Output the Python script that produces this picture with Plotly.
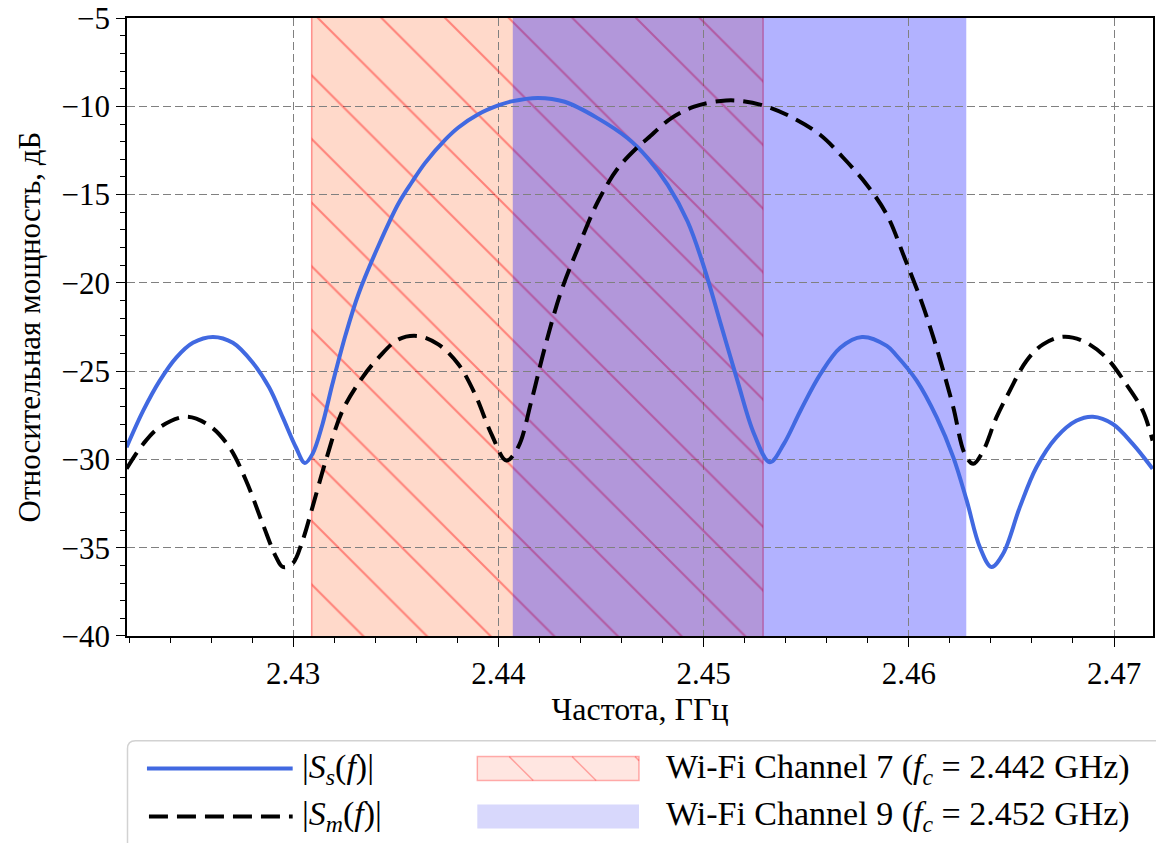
import plotly.graph_objects as go

# ---------------- data ----------------
blue_f = [2.42188, 2.42269, 2.42349, 2.42430, 2.42511, 2.42609, 2.42706, 2.42803, 2.42883,
          2.42949, 2.43013, 2.43057, 2.43094, 2.43143, 2.43191, 2.43256, 2.43319, 2.43416,
          2.43513, 2.43578, 2.43643, 2.43740, 2.43805, 2.43902, 2.43999, 2.44064, 2.44193,
          2.44323, 2.44485, 2.44630, 2.44728, 2.44825, 2.44922, 2.45003, 2.45084, 2.45165,
          2.45246, 2.45323, 2.45391, 2.45472, 2.45569, 2.45666, 2.45772, 2.45893, 2.45942,
          2.46039, 2.46136, 2.46217, 2.46282, 2.46346, 2.46403, 2.46460, 2.46541, 2.46622,
          2.46719, 2.46816, 2.46897, 2.46994, 2.47091, 2.47188]
blue_v = [-29.31, -27.24, -25.55, -24.23, -23.39, -23.06, -23.39, -24.52, -25.93,
          -27.62, -29.31, -30.20, -29.69, -27.99, -25.73, -22.91, -20.60, -17.88,
          -15.50, -14.30, -13.20, -11.90, -11.20, -10.45, -9.95, -9.72, -9.52,
          -9.74, -10.68, -11.81, -12.94, -14.45, -16.52, -19.15, -22.35, -25.55,
          -28.56, -30.16, -29.12, -27.24, -25.17, -23.67, -23.06, -23.57, -24.14,
          -25.55, -27.62, -29.88, -32.32, -34.96, -36.09, -35.33, -32.70, -30.44,
          -28.75, -27.81, -27.58, -27.99, -29.12, -30.53]

black_f = [2.42188, 2.42269, 2.42349, 2.42479, 2.42592, 2.42689, 2.42770, 2.42851, 2.42916,
           2.42949, 2.42997, 2.43046, 2.43094, 2.43159, 2.43240, 2.43337, 2.43416, 2.43513,
           2.43610, 2.43707, 2.43805, 2.43886, 2.43966, 2.44039, 2.44096, 2.44161, 2.44226,
           2.44306, 2.44388, 2.44485, 2.44582, 2.44679, 2.44728, 2.44841, 2.44954, 2.45084,
           2.45181, 2.45310, 2.45440, 2.45569, 2.45683, 2.45796, 2.45893, 2.45980, 2.46064,
           2.46120, 2.46168, 2.46217, 2.46273, 2.46314, 2.46363, 2.46427, 2.46492, 2.46573,
           2.46654, 2.46751, 2.46849, 2.46962, 2.47059, 2.47140, 2.47188]
black_v = [-30.53, -29.12, -28.18, -27.58, -28.09, -29.31, -31.19, -33.64, -35.52,
           -36.09, -35.90, -34.58, -32.70, -30.06, -27.24, -25.36, -24.23, -23.20,
           -23.01, -23.48, -24.61, -26.30, -28.56, -30.06, -29.31, -26.68, -23.67,
           -20.47, -18.02, -15.39, -13.51, -12.30, -11.81, -10.68, -10.02, -9.69,
           -9.69, -10.02, -10.68, -11.62, -12.94, -14.45, -16.14, -18.60, -21.13,
           -23.10, -24.98, -27.06, -29.69, -30.25, -29.50, -27.62, -26.11, -24.42,
           -23.48, -23.05, -23.29, -24.23, -25.73, -27.24, -28.94]

# Wi-Fi channel bands [low, high] in GHz
ch7_band = [2.4309, 2.4529]
ch9_band = [2.4407, 2.4628]

x_ticks = [2.43, 2.44, 2.45, 2.46, 2.47]
x_ticktext = ["2.43", "2.44", "2.45", "2.46", "2.47"]
y_ticks = [-40, -35, -30, -25, -20, -15, -10, -5]
y_ticktext = ["\u221240", "\u221235", "\u221230", "\u221225", "\u221220", "\u221215", "\u221210", "\u22125"]

x_range = [2.4219, 2.4719]
y_range = [-40.001, -4.995]

label_s = "|<i>S</i><sub><i>s</i></sub>(<i>f</i>)|"
label_m = "|<i>S</i><sub><i>m</i></sub>(<i>f</i>)|"
label_ch7 = "Wi-Fi Channel 7 (<i>f</i><sub><i>c</i></sub> = 2.442 GHz)"
label_ch9 = "Wi-Fi Channel 9 (<i>f</i><sub><i>c</i></sub> = 2.452 GHz)"

# ---------------- figure ----------------
W, H = 1156, 843
ML, MR, MT, MB = 127, 1, 16, 207
PW, PH = W - ML - MR, H - MT - MB
FONT = "Liberation Serif"
FS = 31
FS_LEG = 34

def px2x(px):
    return (px - ML) / PW

def py2y(py):
    return (H - MB - py) / PH

fig = go.Figure()

# hatch for channel 7 (non-overlapping part and overlapping part)
hatch_parts = [
    (ch7_band[0], ch9_band[0], "rgba(255,0,0,0.4)"),
    (ch9_band[0], ch7_band[1], "rgba(178,0,78,0.4)"),
]
for lo, hi, col in hatch_parts:
    fig.add_trace(go.Bar(
        x=[(lo + hi) / 2], y=[70], base=[-60], width=[hi - lo],
        marker=dict(color="rgba(0,0,0,0)", line=dict(width=0),
                    pattern=dict(shape="\\", size=45, solidity=0.045,
                                 fgcolor=col, bgcolor="rgba(0,0,0,0)",
                                 fillmode="replace")),
        showlegend=False, hoverinfo="skip"))

fig.add_trace(go.Scatter(x=blue_f, y=blue_v, mode="lines",
                         line=dict(color="royalblue", width=4, shape="spline", smoothing=1.0),
                         showlegend=False))
fig.add_trace(go.Scatter(x=black_f, y=black_v, mode="lines",
                         line=dict(color="black", width=4, dash="19px,9px",
                                   shape="spline", smoothing=1.0),
                         showlegend=False))

shapes = []
# channel bands (below grid)
shapes.append(dict(type="rect", xref="x", yref="paper", x0=ch7_band[0], x1=ch7_band[1],
                   y0=0, y1=1, layer="below", fillcolor="rgba(255,160,122,0.4)",
                   line=dict(width=0)))
for xe in ch7_band:
    shapes.append(dict(type="line", xref="x", yref="paper", x0=xe, x1=xe, y0=0, y1=1,
                       layer="below", line=dict(color="rgba(255,0,0,0.4)", width=1.5)))
shapes.append(dict(type="rect", xref="x", yref="paper", x0=ch9_band[0], x1=ch9_band[1],
                   y0=0, y1=1, layer="below", fillcolor="rgba(0,0,255,0.3)",
                   line=dict(width=0)))

# ---------------- legend (drawn manually) ----------------
bx0, bx1 = px2x(127.5), px2x(1175)
by_top, by_bot = py2y(741), py2y(870)
rx, ry = 8 / PW, 8 / PH
shapes.append(dict(type="path", xref="paper", yref="paper",
                   path=f"M {bx0},{by_bot} L {bx0},{by_top - ry} Q {bx0},{by_top} {bx0 + rx},{by_top} "
                        f"L {bx1},{by_top} L {bx1},{by_bot} Z",
                   fillcolor="white", line=dict(color="rgb(210,210,210)", width=1.5), layer="above"))
row1, row2 = 769, 817
shapes.append(dict(type="line", xref="paper", yref="paper", x0=px2x(147), x1=px2x(293),
                   y0=py2y(row1), y1=py2y(row1), line=dict(color="royalblue", width=4), layer="above"))
shapes.append(dict(type="line", xref="paper", yref="paper", x0=px2x(149), x1=px2x(293),
                   y0=py2y(row2), y1=py2y(row2), line=dict(color="black", width=4, dash="19px,9px"),
                   layer="above"))
# channel 7 patch
p0, p1 = 478, 640
shapes.append(dict(type="rect", xref="paper", yref="paper", x0=px2x(p0), x1=px2x(p1),
                   y0=py2y(row1 + 12), y1=py2y(row1 - 12), fillcolor="rgb(255,230,225)",
                   line=dict(color="rgba(255,0,0,0.3)", width=1.5), layer="above"))
for hx in [510, 573]:
    shapes.append(dict(type="line", xref="paper", yref="paper", x0=px2x(hx), x1=px2x(hx + 24),
                       y0=py2y(row1 - 12), y1=py2y(row1 + 12),
                       line=dict(color="rgba(255,0,0,0.3)", width=1.5), layer="above"))
shapes.append(dict(type="line", xref="paper", yref="paper", x0=px2x(636), x1=px2x(640),
                   y0=py2y(row1 - 12), y1=py2y(row1 - 8),
                   line=dict(color="rgba(255,0,0,0.3)", width=1.5), layer="above"))
# channel 9 patch
shapes.append(dict(type="rect", xref="paper", yref="paper", x0=px2x(p0), x1=px2x(p1),
                   y0=py2y(row2 + 12), y1=py2y(row2 - 12), fillcolor="rgb(216,216,252)",
                   line=dict(width=0), layer="above"))

annotations = []
for txt, xpx, ypx in [(label_s, 300, row1), (label_m, 300, row2),
                      (label_ch7, 665, row1), (label_ch9, 665, row2)]:
    annotations.append(dict(text=txt, xref="paper", yref="paper", x=px2x(xpx), y=py2y(ypx),
                            xanchor="left", yanchor="middle", showarrow=False,
                            font=dict(family=FONT, size=FS_LEG, color="black")))

axis_common = dict(showline=True, linecolor="black", linewidth=1.5, mirror=True,
                   ticks="outside", ticklen=9, tickwidth=1.3, tickcolor="black",
                   showgrid=True, gridcolor="rgb(128,128,128)", gridwidth=1.3,
                   griddash="8px,4px", zeroline=False, ticklabeloverflow="allow",
                   tickfont=dict(family=FONT, size=FS, color="black"))

fig.update_layout(
    width=W, height=H, autosize=False,
    margin=dict(l=ML, r=MR, t=MT, b=MB),
    paper_bgcolor="white", plot_bgcolor="white",
    barmode="overlay", showlegend=False,
    shapes=shapes, annotations=annotations,
    xaxis=dict(range=x_range, tickvals=x_ticks, ticktext=x_ticktext,
               minor=dict(dtick=0.002, tick0=2.43, ticks="outside", ticklen=5, tickwidth=1.1,
                          tickcolor="black", showgrid=False),
               title=dict(text="Частота, ГГц", font=dict(family=FONT, size=FS + 1, color="black"),
                          standoff=6),
               **axis_common),
    yaxis=dict(range=y_range, tickvals=y_ticks, ticktext=y_ticktext,
               minor=dict(dtick=1, tick0=-40, ticks="outside", ticklen=5, tickwidth=1.1,
                          tickcolor="black", showgrid=False),
               title=dict(text="Относительная мощность, дБ",
                          font=dict(family=FONT, size=FS, color="black"), standoff=12),
               **axis_common),
)

fig.write_html("out.html")
